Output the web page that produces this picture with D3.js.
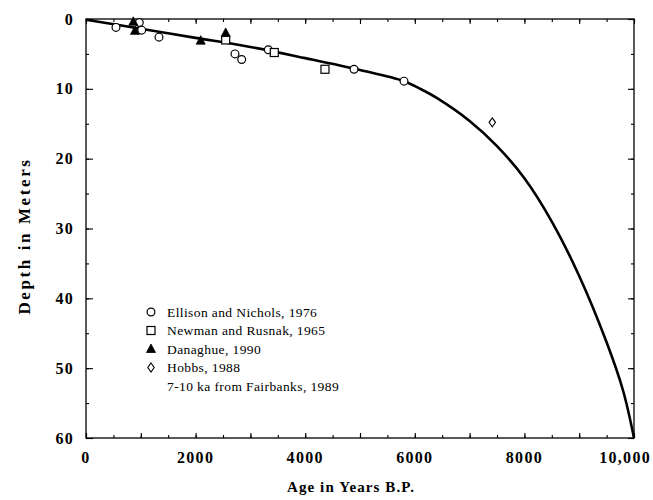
<!DOCTYPE html>
<html>
<head>
<meta charset="utf-8">
<script src="https://cdn.jsdelivr.net/npm/d3@7"></script>
<style>
  html, body { margin: 0; padding: 0; background: #fff; }
  svg { display: block; }
  text { font-family: "Liberation Serif", "DejaVu Serif", serif; fill: #000; }
</style>
</head>
<body>
<svg id="chart" width="653" height="500"></svg>
<script>
// ---- data ----
const xTicks = [0, 2000, 4000, 6000, 8000, 10000];
const xTickLabels = ["0", "2000", "4000", "6000", "8000", "10,000"];
const yTicks = [0, 10, 20, 30, 40, 50, 60];
const yTickLabels = ["0", "10", "20", "30", "40", "50", "60"];

// Ellison and Nichols, 1976 (open circles)
const ellisonAge   = [547, 973, 1016, 1332, 2719, 2841, 3327, 4891, 5803];
const ellisonDepth = [1.2, 0.5, 1.6, 2.6, 5.0, 5.8, 4.4, 7.2, 8.9];
// Newman and Rusnak, 1965 (open squares)
const newmanAge   = [2549, 3436, 4361];
const newmanDepth = [3.0, 4.8, 7.2];
// Danaghue, 1990 (filled triangles)
const danaAge   = [863, 894, 2093, 2549];
const danaDepth = [0.4, 1.7, 3.1, 2.0];
// Hobbs, 1988 (open diamond)
const hobbsAge   = [7414];
const hobbsDepth = [14.8];
// Sea-level curve (7-10 ka from Fairbanks, 1989)
const curveAge   = [0, 1000, 2000, 3000, 4000, 5000, 5800, 6100, 6400, 7000, 7500, 8000, 8500, 9000, 9500, 9800, 10000];
const curveDepth = [0.1, 1.4, 2.7, 4.0, 5.6, 7.3, 8.9, 10.0, 11.3, 14.6, 18.2, 22.8, 29.0, 36.8, 46.3, 53.2, 60];

const legendLabels = ["Ellison and Nichols, 1976", "Newman and Rusnak, 1965", "Danaghue, 1990", "Hobbs, 1988", "7-10 ka from Fairbanks, 1989"];
const legendSymbols = ["circle", "square", "triangle", "diamond", "none"];

// ---- layout ----
const svg = d3.select("#chart");
const L = 86, R = 634, T = 19, B = 438;
const x = d3.scaleLinear().domain([0, 10000]).range([L, R]);
const y = d3.scaleLinear().domain([0, 60]).range([T, B]);

// frame
svg.append("rect").attr("x", L).attr("y", T).attr("width", R - L).attr("height", B - T)
  .attr("fill", "none").attr("stroke", "#000").attr("stroke-width", 1.3);

const xMinor = d3.range(0, 10001, 500);
const xMajor = d3.range(0, 10001, 1000);
const yMinor = d3.range(0, 61, 5);

function tickLine(g) { g.select(".domain").remove(); g.selectAll("line").attr("stroke", "#000").attr("stroke-width", 1.1); }

svg.append("g").attr("transform", `translate(0,${B})`)
  .call(d3.axisBottom(x).tickValues(xMinor).tickSize(-3).tickFormat("")).call(tickLine);
svg.append("g").attr("transform", `translate(0,${B})`)
  .call(d3.axisBottom(x).tickValues(xMajor).tickSize(-5).tickFormat("")).call(tickLine);
svg.append("g").attr("transform", `translate(0,${T})`)
  .call(d3.axisTop(x).tickValues(xMinor).tickSize(-3).tickFormat("")).call(tickLine);
svg.append("g").attr("transform", `translate(0,${T})`)
  .call(d3.axisTop(x).tickValues(xMajor).tickSize(-5).tickFormat("")).call(tickLine);
svg.append("g").attr("transform", `translate(${L},0)`)
  .call(d3.axisLeft(y).tickValues(yMinor).tickSize(-3).tickFormat("")).call(tickLine);
svg.append("g").attr("transform", `translate(${L},0)`)
  .call(d3.axisLeft(y).tickValues(yTicks).tickSize(-7).tickFormat("")).call(tickLine);
svg.append("g").attr("transform", `translate(${R},0)`)
  .call(d3.axisRight(y).tickValues(yMinor).tickSize(-3).tickFormat("")).call(tickLine);
svg.append("g").attr("transform", `translate(${R},0)`)
  .call(d3.axisRight(y).tickValues(yTicks).tickSize(-6).tickFormat("")).call(tickLine);

// tick labels
const xl = svg.append("g").selectAll("text").data(xTicks).join("text")
  .attr("x", d => x(d)).attr("y", 463)
  .attr("text-anchor", "middle")
  .attr("font-size", 16).attr("font-weight", "bold")
  .attr("letter-spacing", 1.3)
  .text((d, i) => xTickLabels[i]);
// keep the last label inside the picture
xl.each(function (d) {
  const w = this.getComputedTextLength();
  const cx = Math.min(x(d), 651 - w / 2);
  d3.select(this).attr("x", cx);
});
svg.append("g").selectAll("text").data(yTicks).join("text")
  .attr("x", 74).attr("y", d => y(d)).attr("dy", "0.35em")
  .attr("text-anchor", "end")
  .attr("font-size", 16).attr("font-weight", "bold")
  .attr("letter-spacing", 1.3)
  .text((d, i) => yTickLabels[i]);

// axis titles
svg.append("text").attr("x", 351).attr("y", 492).attr("text-anchor", "middle")
  .attr("font-size", 15).attr("font-weight", "bold").attr("letter-spacing", 1.1)
  .text("Age in Years B.P.");
svg.append("text").attr("transform", `translate(24,236) rotate(-90)`)
  .attr("text-anchor", "middle").attr("dy", "0.35em")
  .attr("font-size", 17).attr("font-weight", "bold").attr("letter-spacing", 2.6)
  .text("Depth in Meters");

// curve
const line = d3.line().x(d => x(d[0])).y(d => y(d[1])).curve(d3.curveCatmullRom.alpha(0.5));
svg.append("path").datum(d3.zip(curveAge, curveDepth))
  .attr("d", line).attr("fill", "none").attr("stroke", "#000").attr("stroke-width", 2.6);

// symbols
function drawSymbol(g, type, cx, cy) {
  if (type === "circle") {
    g.append("circle").attr("cx", cx).attr("cy", cy).attr("r", 3.9)
      .attr("fill", "#fff").attr("stroke", "#000").attr("stroke-width", 1.2);
  } else if (type === "square") {
    g.append("rect").attr("x", cx - 4).attr("y", cy - 4).attr("width", 8).attr("height", 8)
      .attr("fill", "#fff").attr("stroke", "#000").attr("stroke-width", 1.2);
  } else if (type === "triangle") {
    g.append("path").attr("d", `M${cx},${cy - 5}L${cx + 4.5},${cy + 3.5}L${cx - 4.5},${cy + 3.5}Z`)
      .attr("fill", "#000").attr("stroke", "#000").attr("stroke-width", 0.8);
  } else if (type === "diamond") {
    g.append("path").attr("d", `M${cx},${cy - 4.5}L${cx + 3.2},${cy}L${cx},${cy + 4.5}L${cx - 3.2},${cy}Z`)
      .attr("fill", "#fff").attr("stroke", "#000").attr("stroke-width", 1.1);
  }
}
const pts = svg.append("g");
ellisonAge.forEach((a, i) => drawSymbol(pts, "circle", x(a), y(ellisonDepth[i])));
newmanAge.forEach((a, i) => drawSymbol(pts, "square", x(a), y(newmanDepth[i])));
danaAge.forEach((a, i) => drawSymbol(pts, "triangle", x(a), y(danaDepth[i])));
hobbsAge.forEach((a, i) => drawSymbol(pts, "diamond", x(a), y(hobbsDepth[i])));

// legend
const leg = svg.append("g");
legendLabels.forEach((lab, i) => {
  const ly = 312 + i * 18.5;
  drawSymbol(leg, legendSymbols[i], 151, ly);
  leg.append("text").attr("x", 167).attr("y", ly).attr("dy", "0.35em")
    .attr("font-size", 13.5).attr("letter-spacing", 0.4)
    .text(lab);
});
</script>
</body>
</html>
